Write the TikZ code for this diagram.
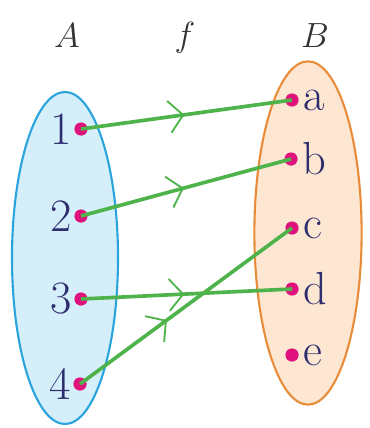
\documentclass[tikz,border=0pt]{standalone}
\usepackage{tikz}
\usetikzlibrary{positioning,arrows.meta,shapes.geometric,decorations.markings}
\definecolor{skyLine}{HTML}{2AA4DC}
\definecolor{skyFill}{HTML}{D4EEFA}
\definecolor{orangeLine}{HTML}{E88C3A}
\definecolor{orangeFill}{HTML}{FDE6D2}
\definecolor{dotPink}{HTML}{E0127E}
\definecolor{leaf}{HTML}{4DB34A}
\definecolor{ink}{HTML}{2E2D6E}
\tikzset{
  setA/.style={ellipse, draw=skyLine, fill=skyFill, line width=1.5pt,
               minimum width=2.65cm, minimum height=8.3cm},
  setB/.style={ellipse, draw=orangeLine, fill=orangeFill, line width=1.5pt,
               minimum width=2.68cm, minimum height=8.58cm},
  elem/.style={circle, fill=dotPink, inner sep=0pt, minimum size=3.3mm},
  elemlabel/.style={text=ink, inner sep=0pt, font=\fontsize{33}{38}\selectfont},
  setname/.style={text=black!80, font=\fontsize{27}{32}\selectfont},
  mapflow/.style={line width=2.6pt, draw=leaf, postaction={decorate},
                  decoration={markings, mark=at position #1 with
                  {\arrow[leaf]{Straight Barb[length=3.5mm,width=8mm,line width=1.3pt]}}}},
  mapflow/.default=0.49
}

\begin{document}
\begin{tikzpicture}[x=0.025cm, y=-0.025cm]
\useasboundingbox (0,0) rectangle (369,428);
\node[setA] (setA) at (65,258) {};
\node[setB] (setB) at (308,233) {};
\node[setname] (nameA) at (67,36) {$A$};
\node[setname] (nameF) at (185,38) {$f$};
\node[setname] (nameB) at (315,36) {$B$};

\node[elem] (x1) at (81,129) {};
\node[elem] (x2) at (81,216) {};
\node[elem] (x3) at (81,299) {};
\node[elem] (x4) at (80,384) {};
\node[elemlabel, left=0.4mm of x1] {1};
\node[elemlabel, left=0.4mm of x2] {2};
\node[elemlabel, left=0.4mm of x3] {3};
\node[elemlabel, left=0.4mm of x4] {4};

\node[elem] (ya) at (292,100) {};
\node[elem] (yb) at (291,159) {};
\node[elem] (yc) at (292,228) {};
\node[elem] (yd) at (292,289) {};
\node[elem] (ye) at (292,355) {};
\node[elemlabel, right=1.2mm of ya] {a};
\node[elemlabel, right=1.2mm of yb] {b};
\node[elemlabel, right=1.2mm of yc] {c};
\node[elemlabel, right=1.2mm of yd] {d};
\node[elemlabel, right=1.2mm of ye] {e};

\draw[mapflow] (x1.center) -- (ya.center);
\draw[mapflow] (x2.center) -- (yb.center);
\draw[mapflow] (x3.center) -- (yd.center);
\draw[mapflow=0.41] (x4.center) -- (yc.center);
\end{tikzpicture}
\end{document}
